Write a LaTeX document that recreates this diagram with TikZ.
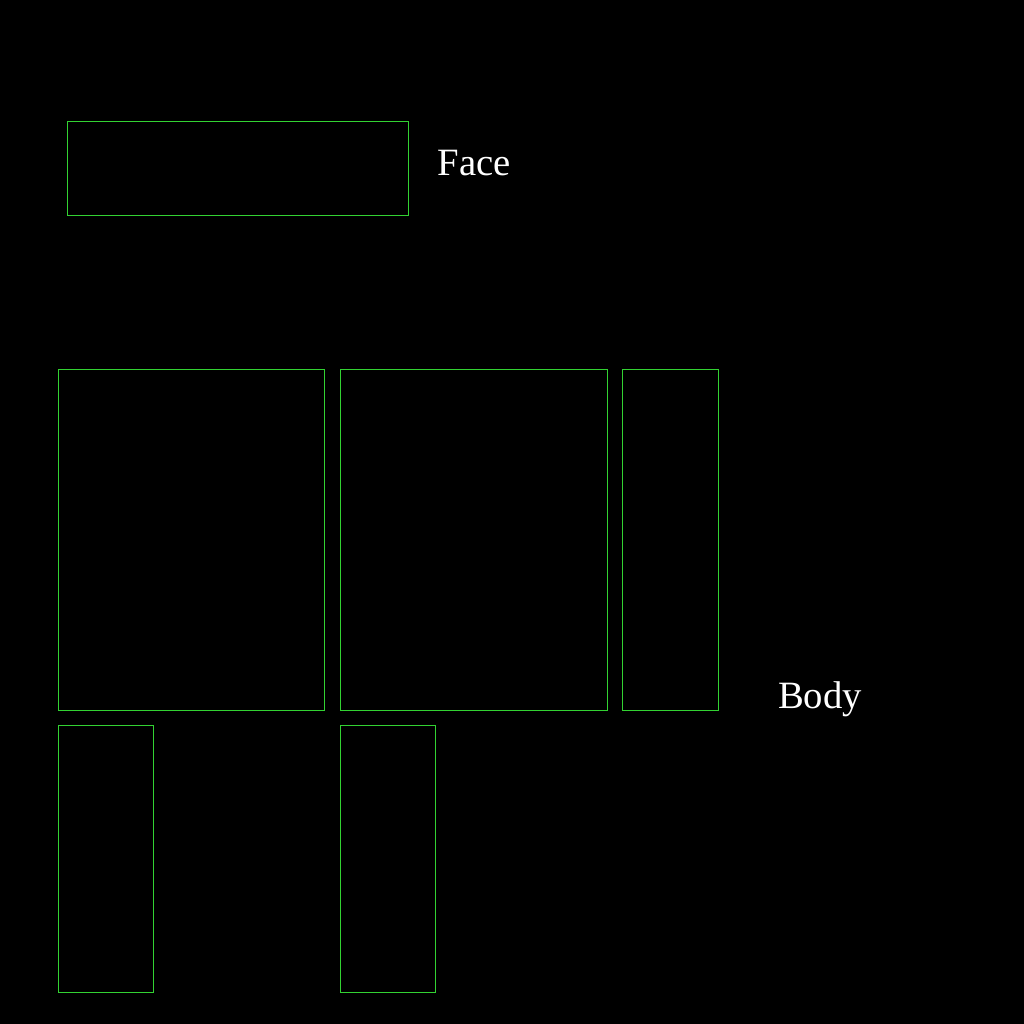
\documentclass[tikz,border=0pt]{standalone}
\usepackage{fontspec}
\setmainfont{Liberation Serif}
\usetikzlibrary{positioning}
\definecolor{outline}{RGB}{50,210,50}
\definecolor{canvas}{RGB}{0,0,0}
\definecolor{labeltext}{RGB}{255,255,255}

\begin{document}
\begin{tikzpicture}[x=0.025cm, y=-0.025cm,
    part/.style={draw=outline, line width=0.6pt},
    partlabel/.style={text=labeltext, font=\fontsize{27.5}{32}\selectfont, inner sep=0pt}]

  % Background
  \fill[canvas] (0,0) rectangle (1024,1024);
  \useasboundingbox (0,0) rectangle (1024,1024);

  % Face
  \draw[part] (67,121) rectangle (408,215);
  \node[partlabel] (face) at (474,163) {Face};

  % Body - top row
  \draw[part] (58,369) rectangle (324,710);
  \draw[part] (340,369) rectangle (607,710);
  \draw[part] (622,369) rectangle (718,710);

  % Body - bottom row
  \draw[part] (58,725) rectangle (153,992);
  \draw[part] (340,725) rectangle (435,992);

  \node[partlabel] (body) at (820,699) {Body};

\end{tikzpicture}
\end{document}
